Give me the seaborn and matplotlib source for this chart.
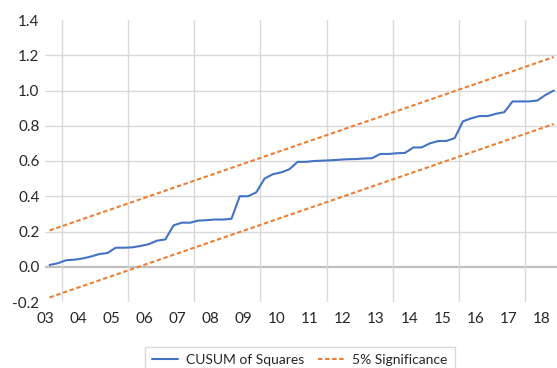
import matplotlib
matplotlib.use("Agg")
import matplotlib.pyplot as plt
import seaborn as sns
import numpy as np
import pandas as pd

# ---- data ----
quarters = pd.period_range("2003Q3", "2018Q4", freq="Q")
cusum = [0.010, 0.020, 0.037, 0.040, 0.047, 0.058, 0.072, 0.078, 0.108, 0.108,
         0.110, 0.118, 0.128, 0.148, 0.155, 0.235, 0.250, 0.250, 0.262, 0.264,
         0.268, 0.268, 0.272, 0.400, 0.400, 0.422, 0.500, 0.525, 0.535, 0.553,
         0.595, 0.595, 0.600, 0.602, 0.604, 0.607, 0.610, 0.611, 0.614, 0.616,
         0.640, 0.640, 0.644, 0.646, 0.677, 0.677, 0.700, 0.713, 0.714, 0.730,
         0.825, 0.842, 0.855, 0.855, 0.868, 0.877, 0.938, 0.938, 0.938, 0.943,
         0.975, 1.000]
upper_bound = [0.206, 1.190]   # at first and last quarter
lower_bound = [-0.174, 0.810]
year_labels = ["03", "04", "05", "06", "07", "08", "09", "10", "11", "12",
               "13", "14", "15", "16", "17", "18"]
years = list(range(2003, 2019))
y_ticks = [-0.2, 0.0, 0.2, 0.4, 0.6, 0.8, 1.0, 1.2, 1.4]
y_labels = ["-0.2", "0.0", "0.2", "0.4", "0.6", "0.8", "1.0", "1.2", "1.4"]
series_names = ["CUSUM of Squares", "5% Significance"]

# quarter centres as decimal years
xq = np.array([q.year + (q.quarter - 1) / 4 + 0.125 for q in quarters])
x_ends = [xq[0], xq[-1]]

sns.set_theme(style="white")
plt.rcParams["font.family"] = ["Lato", "DejaVu Sans"]

fig = plt.figure(figsize=(5.57, 3.68), dpi=100)
ax = fig.add_axes([45 / 557, 1 - 302 / 368, 1 - 45 / 557, (302 - 20) / 368])

blue = "#4472C4"
orange = "#ED7D31"
grid_c = "#D9D9D9"

# grid
for yv in y_ticks[1:-1]:
    ax.axhline(yv, color="#BFBFBF" if yv == 0 else grid_c,
               lw=1.6 if yv == 0 else 1.0, zorder=0)
for yr in years[1::2]:
    ax.axvline(yr, color=grid_c, lw=1.0, zorder=0)

sns.lineplot(x=xq, y=cusum, ax=ax, color=blue, lw=1.5, label=series_names[0],
             zorder=3)
sns.lineplot(x=x_ends, y=upper_bound, ax=ax, color=orange, lw=1.5,
             label=series_names[1], zorder=2)
sns.lineplot(x=x_ends, y=lower_bound, ax=ax, color=orange, lw=1.5,
             label="_nolegend_", zorder=2)
for ln in ax.get_lines()[-2:]:
    ln.set_linestyle((0, (2.1, 1.3)))

ax.set_xlim(2003.486, 2018.97)
ax.set_ylim(-0.2, 1.4)
ax.set_xticks([y + 0.5 for y in years])
ax.set_xticklabels(year_labels)
ax.set_yticks(y_ticks)
ax.set_yticklabels(y_labels)
ax.tick_params(axis="both", length=0, labelsize=11, colors="#262626")
ax.tick_params(axis="y", pad=4)
ax.tick_params(axis="x", pad=7)
for s in ax.spines.values():
    s.set_visible(False)
ax.set_xlabel("")
ax.set_ylabel("")

ax.get_legend().remove()
handles, labels = ax.get_legend_handles_labels()
leg = fig.legend(handles, labels, loc="upper center", ncol=2,
                 bbox_to_anchor=(300 / 557, 1 - 347 / 368),
                 bbox_transform=fig.transFigure, fontsize=10, frameon=True,
                 fancybox=False, edgecolor=grid_c, framealpha=1,
                 handlelength=1.85, handletextpad=0.6, columnspacing=1.0,
                 borderpad=0.5, borderaxespad=0.0)
leg.get_frame().set_linewidth(1.0)
for t in leg.get_texts():
    t.set_color("#262626")

fig.savefig("out.png", dpi=100)
